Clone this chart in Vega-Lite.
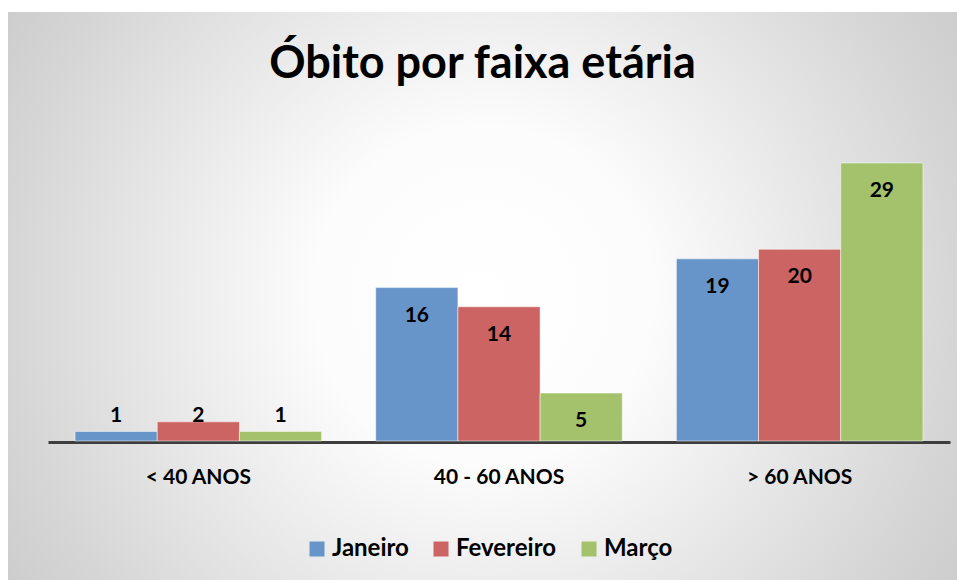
{
  "$schema": "https://vega.github.io/schema/vega-lite/v6.json",
  "autosize": "none",
  "width": 949,
  "height": 568,
  "padding": {"left": 8, "top": 12, "right": 0, "bottom": 0},
  "background": "white",
  "config": {
    "font": "Lato",
    "view": {
      "stroke": null,
      "fill": {
        "gradient": "radial",
        "x1": 0.5, "y1": 0.5, "r1": 0,
        "x2": 0.5, "y2": 0.5, "r2": 0.71,
        "stops": [
          {"offset": 0, "color": "#ffffff"},
          {"offset": 0.25, "color": "#fcfcfc"},
          {"offset": 0.7, "color": "#d6d6d6"},
          {"offset": 1, "color": "#c0c0c0"}
        ]
      }
    }
  },
  "title": {
    "text": "Óbito por faixa etária",
    "anchor": "middle",
    "frame": "group",
    "orient": "top",
    "offset": -66,
    "dy": 45,
    "baseline": "alphabetic",
    "font": "Lato",
    "fontSize": 45,
    "fontWeight": "bold",
    "color": "black"
  },
  "data": {
    "values": [
      {"faixa": "< 40 ANOS", "mes": "Janeiro", "valor": 1},
      {"faixa": "< 40 ANOS", "mes": "Fevereiro", "valor": 2},
      {"faixa": "< 40 ANOS", "mes": "Março", "valor": 1},
      {"faixa": "40 - 60 ANOS", "mes": "Janeiro", "valor": 16},
      {"faixa": "40 - 60 ANOS", "mes": "Fevereiro", "valor": 14},
      {"faixa": "40 - 60 ANOS", "mes": "Março", "valor": 5},
      {"faixa": "> 60 ANOS", "mes": "Janeiro", "valor": 19},
      {"faixa": "> 60 ANOS", "mes": "Fevereiro", "valor": 20},
      {"faixa": "> 60 ANOS", "mes": "Março", "valor": 29}
    ]
  },
  "encoding": {
    "x": {
      "field": "faixa",
      "type": "nominal",
      "sort": ["< 40 ANOS", "40 - 60 ANOS", "> 60 ANOS"],
      "scale": {"range": [40, 942], "paddingInner": 0.18, "paddingOuter": 0.09},
      "axis": {
        "title": null,
        "orient": "bottom",
        "offset": -138,
        "domainColor": "#3d3d3d",
        "domainWidth": 3,
        "ticks": false,
        "labelAngle": 0,
        "labelFont": "Lato",
        "labelFontSize": 21,
        "labelFontWeight": "bold",
        "labelColor": "black",
        "labelPadding": 24
      }
    },
    "xOffset": {
      "field": "mes",
      "type": "nominal",
      "sort": ["Janeiro", "Fevereiro", "Março"],
      "scale": {"paddingInner": 0, "paddingOuter": 0}
    }
  },
  "layer": [
    {
      "mark": {"type": "bar", "stroke": "white", "strokeOpacity": 0.5, "strokeWidth": 1},
      "encoding": {
        "y": {
          "field": "valor",
          "type": "quantitative",
          "scale": {"domain": [-14.5, 44.75], "nice": false, "zero": false},
          "axis": null
        },
        "color": {
          "field": "mes",
          "type": "nominal",
          "sort": ["Janeiro", "Fevereiro", "Março"],
          "scale": {"domain": ["Janeiro", "Fevereiro", "Março"], "range": ["#6794C9", "#CB6462", "#A3C26B"]},
          "legend": {
            "orient": "none",
            "legendX": 297,
            "legendY": 525,
            "direction": "horizontal",
            "title": null,
            "symbolType": "square",
            "symbolSize": 225,
            "symbolStrokeWidth": 0,
            "labelFont": "Lato",
            "labelFontSize": 24,
            "labelFontWeight": "bold",
            "labelColor": "black",
            "labelOffset": 3,
            "columnPadding": 20
          }
        }
      }
    },
    {
      "transform": [{"filter": "datum.valor >= 5"}],
      "mark": {"type": "text", "dy": 28, "font": "Lato", "fontSize": 21, "fontWeight": "bold", "color": "black"},
      "encoding": {
        "y": {"field": "valor", "type": "quantitative"},
        "text": {"field": "valor", "type": "quantitative"}
      }
    },
    {
      "transform": [{"filter": "datum.valor < 5"}],
      "mark": {"type": "text", "dy": -25, "font": "Lato", "fontSize": 21, "fontWeight": "bold", "color": "black"},
      "encoding": {
        "y": {"datum": 0, "type": "quantitative"},
        "text": {"field": "valor", "type": "quantitative"}
      }
    }
  ]
}
